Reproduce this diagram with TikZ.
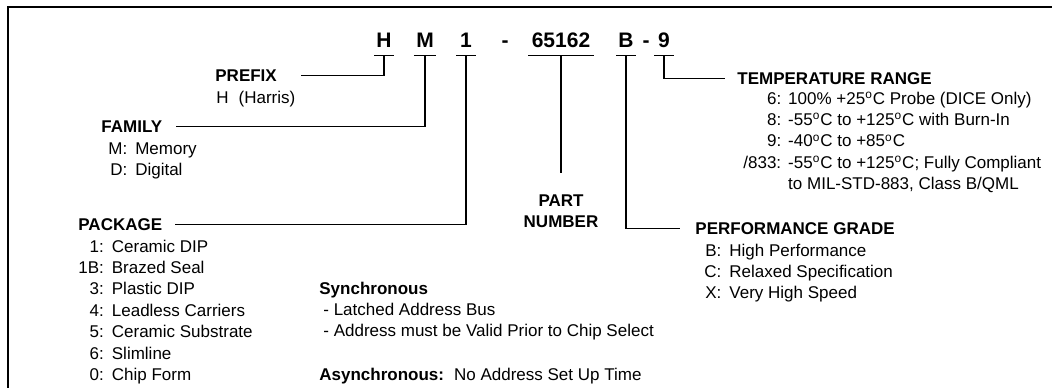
\documentclass[tikz,border=0pt]{standalone}
\usepackage{fontspec}
\setmainfont{Liberation Sans}
\usetikzlibrary{positioning}
\newcommand{\bodyfont}{\fontsize{8.5}{10.7}\selectfont}
\newcommand{\codefont}{\fontsize{10.5}{12}\selectfont\bfseries}
\newcommand{\dg}{\textsuperscript{o}}
\tikzset{
  link/.style={line width=0.6pt},
  frame/.style={line width=1pt},
  code/.style={font=\codefont, anchor=base, inner ysep=0pt, inner xsep=1pt,
    text depth=4pt, minimum width=9.5pt},
  head/.style={font=\bodyfont\bfseries, anchor=base west},
  txt/.style={font=\bodyfont, anchor=base west}
}

\begin{document}
\begin{tikzpicture}[x=0.5pt, y=-0.5pt, every node/.style={inner sep=0pt}]
\useasboundingbox (0,0) rectangle (1052,388);
% open frame, top and left only
\draw[frame] (1052,7) -- (8,7) -- (8,388);
% part number code
\node[code] (cH) at (384,47) {H};
\node[code] (cM) at (425,47) {M};
\node[code] (c1) at (466,47) {1};
\node[code, minimum width=0pt] (d1) at (505,47) {-};
\node[code, inner xsep=1.5pt] (cPart) at (561,47) {65162};
\node[code] (cB) at (626,47) {B};
\node[code, minimum width=0pt] (d2) at (646,47) {-};
\node[code] (c9) at (664,47) {9};
\foreach \n in {cH,cM,c1,cPart,cB,c9}{
  \draw[link] (\n.south west) -- (\n.south east);}
% prefix
\node[head] (prefix) at (215,81) {PREFIX};
\node[txt] (harris) at (216,103) {H\hspace{5pt}(Harris)};
% family
\node[head] (family) at (101,132) {FAMILY};
\node[txt] (famlist) at (108,154) {\begin{tabular}[t]{@{}r@{:\hspace{4pt}}l@{}}
  M & Memory\\ D & Digital\end{tabular}};
% package
\node[head] (package) at (78,230) {PACKAGE};
\node[txt] (pkglist) at (78,252) {\begin{tabular}[t]{@{}r@{:\hspace{4pt}}l@{}}
  1 & Ceramic DIP\\ 1B & Brazed Seal\\ 3 & Plastic DIP\\ 4 & Leadless Carriers\\
  5 & Ceramic Substrate\\ 6 & Slimline\\ 0 & Chip Form\end{tabular}};
% part number
\node[font=\bodyfont\bfseries, anchor=base] (partno) at (561,206) {\begin{tabular}[t]{@{}c@{}}
  PART\\ NUMBER\end{tabular}};
% performance grade
\node[head] (grade) at (695,234) {PERFORMANCE GRADE};
\node[txt] (gradelist) at (704,256) {\begin{tabular}[t]{@{}r@{:\hspace{4pt}}l@{}}
  B & High Performance\\ C & Relaxed Specification\\ X & Very High Speed\end{tabular}};
% temperature range
\node[head] (temp) at (737,84) {TEMPERATURE RANGE};
\node[txt] (templist) at (743,104) {\begin{tabular}[t]{@{}r@{:\hspace{3.5pt}}l@{}}
  6 & 100\% +25\dg C Probe (DICE Only)\\
  8 & -55\dg C to +125\dg C with Burn-In\\
  9 & -40\dg C to +85\dg C\\
  /833 & -55\dg C to +125\dg C; Fully Compliant\\
  \multicolumn{1}{@{}r@{\hspace{3.5pt}\phantom{:}}}{} & to MIL-STD-883, Class B/QML\end{tabular}};
% bus notes
\node[txt] (sync) at (319,294) {\begin{tabular}[t]{@{}l@{}}
  \textbf{Synchronous}\\ \hspace{2pt}- Latched Address Bus\\
  \hspace{2pt}- Address must be Valid Prior to Chip Select\end{tabular}};
\node[txt] (async) at (319,380) {\textbf{Asynchronous:}\hspace{5pt}No Address Set Up Time};
% connectors
\draw[link, shorten >=12pt] (cH.south) |- (prefix.east);
\draw[link, shorten >=6.5pt] (cM.south) |- (family.east);
\draw[link, shorten >=6pt] (c1.south) |- (package.east);
\draw[link, shorten >=9pt] (cPart.south) -- (cPart.south |- partno.north);
\draw[link, shorten >=7.5pt] (cB.south) |- (grade.west);
\draw[link, shorten >=6pt] (c9.south) |- (temp.west);
\end{tikzpicture}
\end{document}
